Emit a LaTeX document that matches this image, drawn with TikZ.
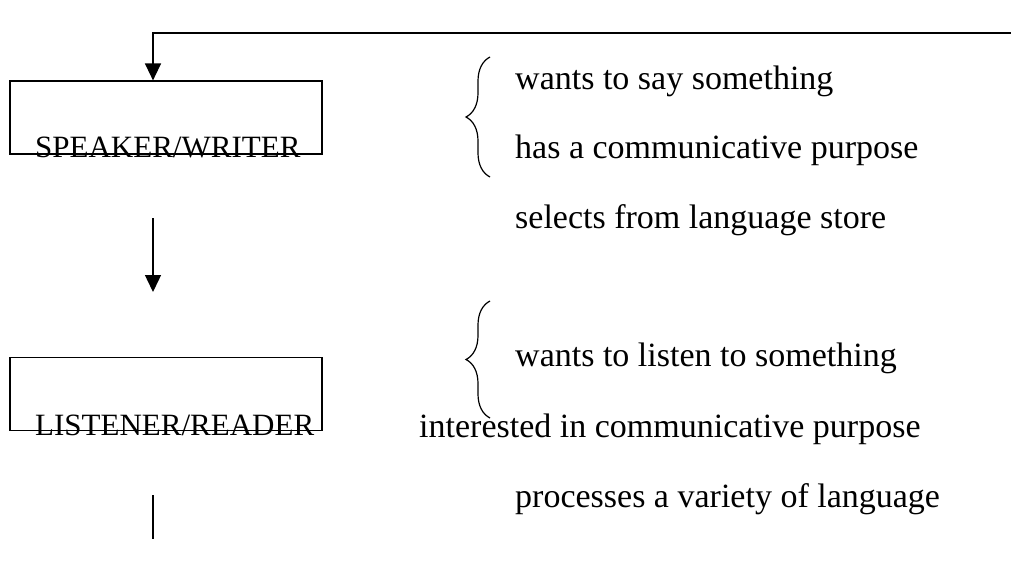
\documentclass[tikz,border=0pt]{standalone}
\usepackage{fontspec}
\setmainfont{Liberation Serif}
\usetikzlibrary{arrows.meta,positioning,decorations.pathreplacing}

\tikzset{
  rolebox/.style={draw,line width=1.2pt,minimum width=312pt,minimum height=73pt,inner sep=0pt},
  rolename/.style={inner sep=0pt,anchor=base west,font=\fontsize{31}{36}\selectfont},
  note/.style={inner sep=0pt,anchor=base west,font=\fontsize{34}{40}\selectfont},
  flow/.style={line width=1.4pt,-{Triangle[length=17pt,width=16pt]}},
  curly/.style={line width=1.2pt,decorate,decoration={brace,amplitude=24pt}}
}

\begin{document}
\begin{tikzpicture}[x=1pt,y=-1pt]
  \useasboundingbox (0,0) rectangle (1011,571);
  % the two roles
  \node[rolebox] (speaker) at (166,117.5) {};
  \node[rolebox] (listener) at (166,394) {};
  \node[rolename] (speakername) at (35,157) {SPEAKER/WRITER};
  \node[rolename] (listenername) at (35,435) {LISTENER/READER};
  % connectors
  \coordinate (spine) at (153,0);
  \coordinate (loop) at (1011,33);
  \coordinate (midtop) at (153,218);
  \coordinate (midtip) at (153,292);
  \coordinate (endtop) at (153,495);
  \coordinate (endbot) at (153,539);
  \draw[flow] (loop) -| (speaker.north -| spine);
  \draw[flow] (midtop) -- (midtip);
  \draw[line width=1.4pt] (endtop) -- (endbot);
  % braces and notes
  \draw[curly] (490,177) -- (490,57);
  \draw[curly] (490,418) -- (490,301);
  \node[note] (say) at (515,89) {wants to say something};
  \node[note] (purpose) at (515,158) {has a communicative purpose};
  \node[note] (selects) at (515,228) {selects from language store};
  \node[note] (listen) at (515,366) {wants to listen to something};
  \node[note] (interest) at (419,437) {interested in communicative purpose};
  \node[note] (process) at (515,507) {processes a variety of language};
\end{tikzpicture}
\end{document}
